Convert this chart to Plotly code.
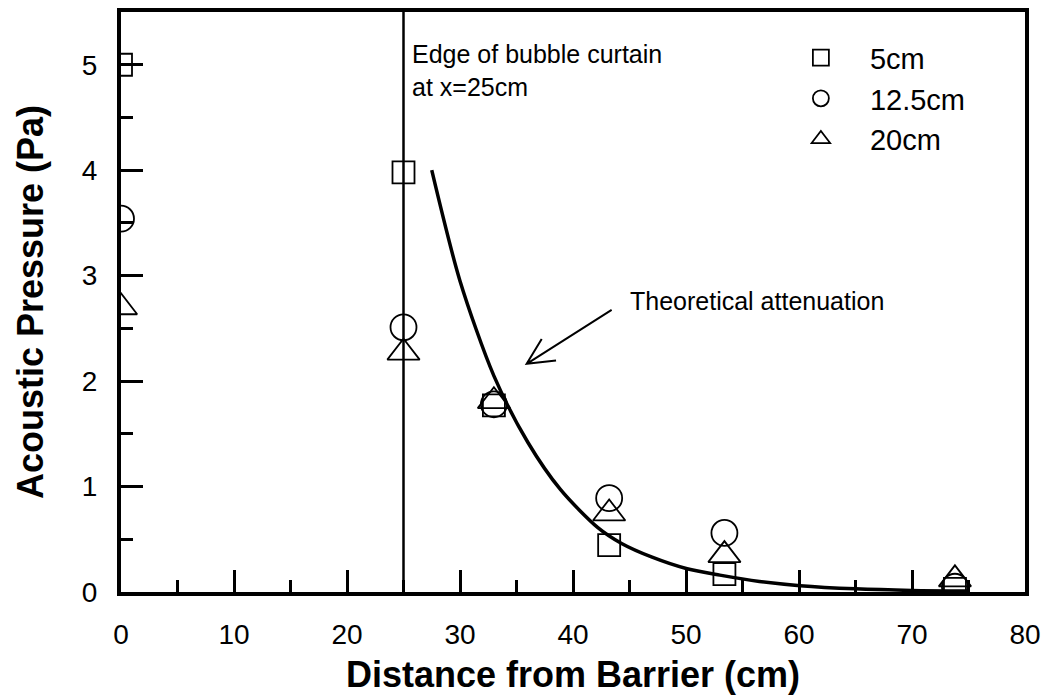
import plotly.graph_objects as go

# Measurement positions along the tank (cm from the barrier)
distance_cm = [0, 25, 33, 43.2, 53.4, 73.8]

# Acoustic pressure (Pa) at three hydrophone depths
pressure_5cm = [5.00, 3.98, 1.77, 0.445, 0.17, 0.03]
pressure_12_5cm = [3.54, 2.51, 1.78, 0.89, 0.56, 0.05]
pressure_20cm = [2.70, 2.27, 1.81, 0.745, 0.35, 0.12]

# Theoretical attenuation curve behind the bubble curtain
theory_x = [27.5, 30.0, 33.0, 36.0, 38.9, 42.2, 44.3, 47.0, 50.1, 53.0, 56.5, 60.1, 65.0, 70.0, 75.0]
theory_y = [4.00, 2.95, 2.05, 1.42, 0.97, 0.61, 0.46, 0.33, 0.22, 0.16, 0.10, 0.06, 0.03, 0.015, 0.01]

curtain_edge_cm = 25

FONT = "Arial, 'Liberation Sans', sans-serif"

fig = go.Figure()

fig.add_trace(go.Scatter(
    x=theory_x, y=theory_y, mode="lines",
    line=dict(color="black", width=3.5, shape="spline", smoothing=0.8),
    showlegend=False, hoverinfo="skip",
))

series = [
    ("5cm", pressure_5cm, "square-open", 22),
    ("12.5cm", pressure_12_5cm, "circle-open", 26),
    ("20cm", pressure_20cm, "triangle-up-open", 28),
]
for name, values, symbol, size in series:
    fig.add_trace(go.Scatter(
        x=distance_cm, y=values, mode="markers", name=name,
        marker=dict(symbol=symbol, size=size, color="black",
                    line=dict(color="black", width=1.8)),
    ))

# Edge of the bubble curtain
fig.add_shape(type="line", xref="x", yref="paper",
              x0=curtain_edge_cm, x1=curtain_edge_cm, y0=0, y1=1,
              line=dict(color="black", width=2.5))

fig.add_annotation(
    x=25.6, y=4.95, xref="x", yref="y", xanchor="left", yanchor="middle",
    text="Edge of bubble curtain<br>at x=25cm", showarrow=False, align="left",
    font=dict(family=FONT, size=25, color="black"),
)

fig.add_annotation(
    x=44.85, y=2.76, xref="x", yref="y", xanchor="left", yanchor="middle",
    text="Theoretical attenuation", showarrow=False,
    font=dict(family=FONT, size=25, color="black"),
)

# Open arrow pointing at the curve
fig.add_shape(type="path", xref="x", yref="y",
              path="M 43.42,2.675 L 35.9,2.164 M 37.23,2.40 L 35.9,2.164 L 38.5,2.195",
              line=dict(color="black", width=2))

axis_common = dict(
    ticks="inside", tickcolor="black", tickwidth=3,
    showline=True, linewidth=4, linecolor="black", mirror=True,
    showgrid=False, zeroline=False, automargin=False,
    tickfont=dict(family=FONT, size=28, color="black"),
)

fig.update_xaxes(
    range=[0, 80], tickmode="linear", tick0=0, dtick=10, ticklen=22,
    minor=dict(ticks="inside", ticklen=12, tickwidth=3, tickcolor="black", dtick=5, tick0=0),
    ticklabelstandoff=14,
    title=dict(text="<b>Distance from Barrier (cm)</b>", standoff=14,
               font=dict(family=FONT, size=36, color="black")),
    **axis_common,
)
fig.update_yaxes(
    range=[0, 5.5], tickmode="linear", tick0=0, dtick=1, ticklen=22,
    minor=dict(ticks="inside", ticklen=12, tickwidth=3, tickcolor="black", dtick=0.5, tick0=0),
    ticklabelstandoff=14,
    title=dict(text="<b>Acoustic Pressure (Pa)</b>", standoff=28,
               font=dict(family=FONT, size=36, color="black")),
    **axis_common,
)

fig.update_layout(
    width=1050, height=696,
    margin=dict(l=121, r=25, t=12, b=104),
    paper_bgcolor="white", plot_bgcolor="white",
    font=dict(family=FONT, color="black"),
    legend=dict(x=0.72, y=0.965, xanchor="left", yanchor="top",
                bgcolor="rgba(0,0,0,0)", itemwidth=88,
                font=dict(family=FONT, size=29, color="black"),
                tracegroupgap=0),
)

fig.write_html("out.html")
